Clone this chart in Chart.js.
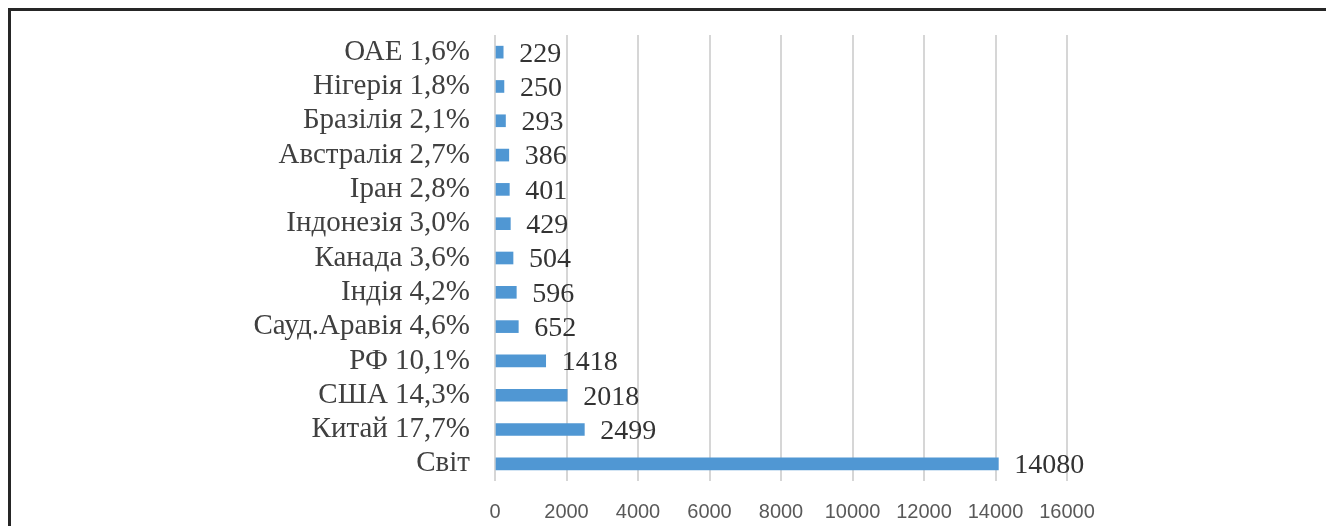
<!DOCTYPE html>
<html>
<head>
<meta charset="utf-8">
<script src="https://cdn.jsdelivr.net/npm/chart.js@4.4.0/dist/chart.umd.min.js"></script>
<style>
    html, body { margin: 0; padding: 0; background: #fff; }
    #wrap { position: relative; width: 1326px; height: 526px; overflow: hidden; }
    #frame { position: absolute; left: 8px; top: 8px; right: -10px; bottom: -10px;
             border-top: 3px solid #262626; border-left: 3px solid #262626; }
    #chart { position: absolute; left: 0; top: 0; }
</style>
</head>
<body>
<div id="wrap">
    <div id="frame"></div>
    <canvas id="chart" width="1326" height="526"></canvas>
</div>
<script>
// ============================================================
//  DATA
// ============================================================
var countries = ['ОАЕ', 'Нігерія', 'Бразілія', 'Австралія', 'Іран', 'Індонезія', 'Канада',
                 'Індія', 'Сауд.Аравія', 'РФ', 'США', 'Китай', 'Світ'];
var shares    = ['1,6%', '1,8%', '2,1%', '2,7%', '2,8%', '3,0%', '3,6%',
                 '4,2%', '4,6%', '10,1%', '14,3%', '17,7%', ''];
var values    = [229, 250, 293, 386, 401, 429, 504, 596, 652, 1418, 2018, 2499, 14080];
var xTicks    = [0, 2000, 4000, 6000, 8000, 10000, 12000, 14000, 16000];

var labels = countries.map(function(c, i){ return shares[i] ? c + ' ' + shares[i] : c; });

// value labels right of each bar
var valueLabels = {
    id: 'valueLabels',
    afterDatasetsDraw: function(chart) {
        var ctx = chart.ctx;
        var meta = chart.getDatasetMeta(0);
        ctx.save();
        ctx.font = '28px "Liberation Serif", "Times New Roman", serif';
        ctx.fillStyle = '#333333';
        ctx.textAlign = 'left';
        ctx.textBaseline = 'middle';
        meta.data.forEach(function(bar, i){
            ctx.fillText(String(values[i]), bar.x + 16, bar.y + 2);
        });
        ctx.restore();
    }
};

new Chart(document.getElementById('chart'), {
    type: 'bar',
    data: {
        labels: labels,
        datasets: [{ data: values, backgroundColor: '#5097d3', borderWidth: 0, barThickness: 12 }]
    },
    options: {
        indexAxis: 'y',
        responsive: false, animation: false,
        layout: { padding: { top: 35, right: 259, left: 0, bottom: 0 } },
        plugins: { legend: { display: false }, tooltip: { enabled: false } },
        scales: {
            x: {
                min: 0, max: 16000,
                afterBuildTicks: function(s){ s.ticks = xTicks.map(function(v){ return { value: v }; }); },
                afterFit: function(s){ s.height = 45; s.paddingLeft = 0; s.paddingRight = 0; },
                grid: { color: '#d6d6d6', lineWidth: 2, drawTicks: false },
                border: { display: false },
                ticks: { color: '#595959', padding: 19,
                         callback: function(v){ return String(v); },
                         font: { family: '"Liberation Sans", Arial, sans-serif', size: 20 } }
            },
            y: {
                afterFit: function(s){ s.width = 495; s.paddingTop = 0; s.paddingBottom = 0; },
                grid: { display: false, drawTicks: false },
                border: { display: false },
                ticks: { color: '#404040', padding: 25, autoSkip: false,
                         font: { family: '"Liberation Serif", "Times New Roman", serif', size: 29 } }
            }
        }
    },
    plugins: [valueLabels]
});
</script>
</body>
</html>
